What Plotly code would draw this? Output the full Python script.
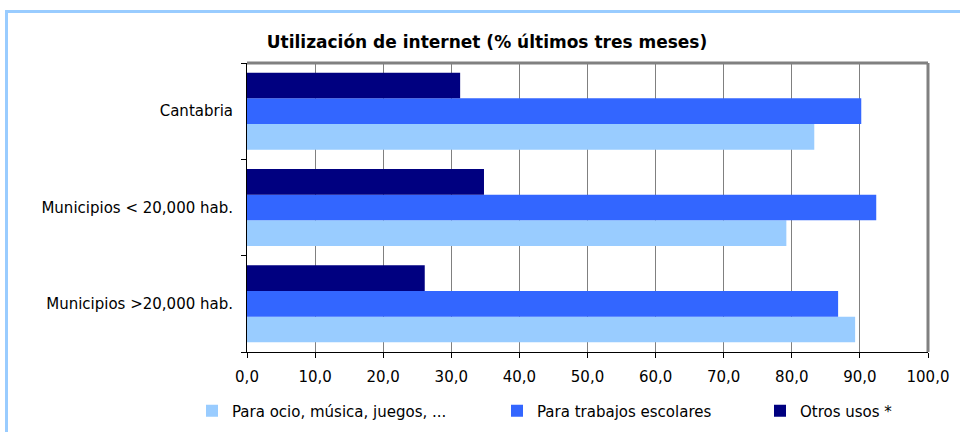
import plotly.graph_objects as go

categories = ["Municipios >20,000 hab.", "Municipios < 20,000 hab.", "Cantabria"]
series_names = ["Para ocio, música, juegos, ...", "Para trabajos escolares", "Otros usos *"]
ocio = [89.3, 79.2, 83.3]
trabajos = [86.8, 92.4, 90.2]
otros = [26.1, 34.8, 31.3]
colors = ["#99CCFF", "#3366FF", "#000080"]
x_ticks = [0, 10, 20, 30, 40, 50, 60, 70, 80, 90, 100]

FONT = "Century Gothic, URW Gothic, DejaVu Sans, sans-serif"
FS = 15

fig = go.Figure()
for i, (name, vals) in enumerate(zip(series_names, [ocio, trabajos, otros])):
    fig.add_trace(go.Bar(
        y=categories, x=vals, name=name, orientation="h",
        marker=dict(color=colors[i], line=dict(width=0)),
        legend="legend" if i == 0 else f"legend{i+1}",
    ))

L, R, T, B = 247, 32, 63, 80
W, H = 960, 432

def leg(x_text):
    return dict(orientation="h", xref="container", yref="container",
                x=(x_text - 37) / W, y=1 - 411 / H, xanchor="left", yanchor="middle",
                font=dict(family=FONT, size=FS), bgcolor="rgba(0,0,0,0)")

fig.update_layout(
    width=W, height=H,
    margin=dict(l=L, r=R, t=T, b=B, autoexpand=False),
    paper_bgcolor="white", plot_bgcolor="white",
    barmode="group", bargap=0.2, bargroupgap=0,
    separators=",.",
    font=dict(family=FONT, size=FS, color="black"),
    title=dict(text="<b>Utilización de internet (% últimos tres meses)</b>",
               x=487 / W, xanchor="center", y=1 - 42 / H, yanchor="middle",
               font=dict(family=FONT, size=17, color="black")),
    xaxis=dict(range=[0, 100], tickvals=x_ticks, tickformat=".1f",
               showgrid=True, gridcolor="#808080", gridwidth=1,
               showline=True, linecolor="black", linewidth=1,
               ticks="outside", ticklen=5, tickcolor="black",
               ticklabelstandoff=6, zeroline=False, automargin=False,
               tickfont=dict(family=FONT, size=FS)),
    yaxis=dict(categoryorder="array", categoryarray=categories,
               showline=True, linecolor="black", linewidth=1,
               ticks="outside", tickson="boundaries", ticklen=5, tickcolor="black",
               ticklabelstandoff=10, showgrid=False, automargin=False,
               tickfont=dict(family=FONT, size=FS)),
    legend=leg(229),
    legend2=leg(534),
    legend3=leg(797),
    showlegend=True,
)

pw = W - L - R
ph = H - T - B
# plot-area border (gray, top and right)
fig.add_shape(type="line", xref="paper", yref="paper", x0=0, x1=1, y0=1, y1=1,
              line=dict(color="#808080", width=3))
fig.add_shape(type="line", xref="paper", yref="paper", x0=1, x1=1, y0=0, y1=1,
              line=dict(color="#808080", width=3))
# outer light-blue frame
fig.add_shape(type="rect", xref="paper", yref="paper",
              x0=(6.5 - L) / pw, x1=(W + 20 - L) / pw,
              y0=-(B + 20) / ph, y1=(H - 11.5 - B) / ph,
              line=dict(color="#99CCFF", width=3), layer="below")

fig.write_html("out.html", config={"displayModeBar": False},
               post_script="document.body.style.margin='0';")
